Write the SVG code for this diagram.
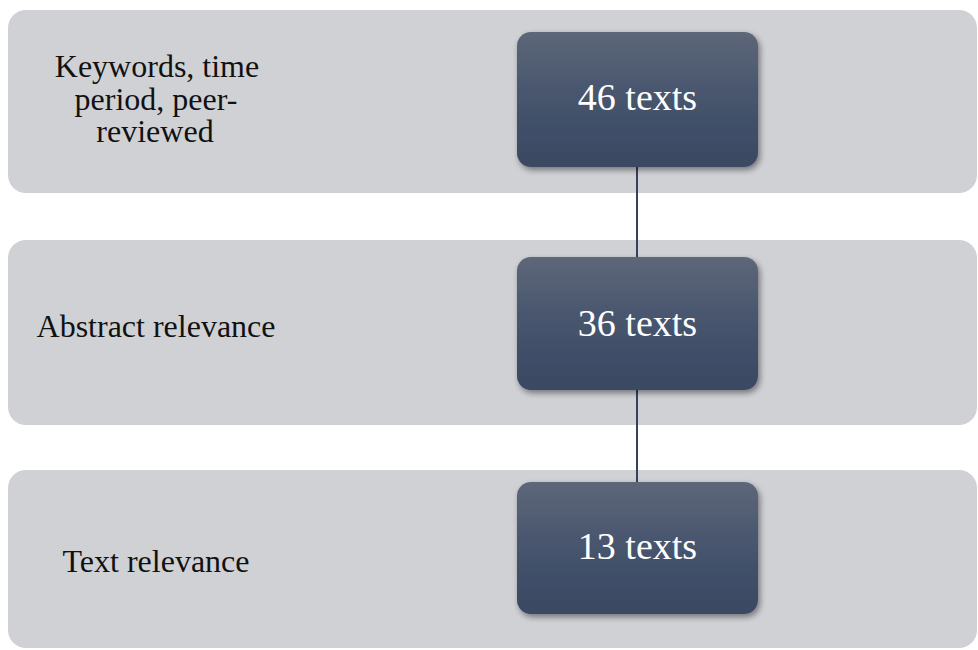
<svg xmlns="http://www.w3.org/2000/svg" width="978" height="650" viewBox="0 0 978 650">
<defs>
<linearGradient id="g" x1="0" y1="0" x2="0" y2="1">
<stop offset="0" stop-color="#5d6779"/>
<stop offset="0.5" stop-color="#46546d"/>
<stop offset="1" stop-color="#3a4862"/>
</linearGradient>
<filter id="sh" x="-10%" y="-10%" width="125%" height="130%">
<feGaussianBlur in="SourceAlpha" stdDeviation="3"/>
<feOffset dx="2" dy="3" result="b"/>
<feComponentTransfer><feFuncA type="linear" slope="0.45"/></feComponentTransfer>
<feMerge><feMergeNode/><feMergeNode in="SourceGraphic"/></feMerge>
</filter>
</defs>
<style>
.band{fill:#d0d1d5}
.box{fill:url(#g)}
.lbl{font-family:"Liberation Serif",serif;font-size:32px;fill:#111;text-anchor:middle}
.num{font-family:"Liberation Serif",serif;font-size:38px;fill:#fff;text-anchor:middle}
.con{stroke:#34425a;stroke-width:2;fill:none}
</style>
<rect width="978" height="650" fill="#fff"/>
<g id="band1"><rect class="band" x="8" y="10" width="969" height="183" rx="18"/>
<text class="lbl" x="157" y="77">Keywords, time</text>
<text class="lbl" x="156" y="110">period, peer-</text>
<text class="lbl" x="155" y="142">reviewed</text></g>
<g id="band2"><rect class="band" x="8" y="240" width="969" height="185" rx="18"/>
<text class="lbl" x="156" y="337">Abstract relevance</text></g>
<g id="band3"><rect class="band" x="8" y="470" width="969" height="178" rx="18"/>
<text class="lbl" x="156" y="572">Text relevance</text></g>
<g id="connectors">
<line class="con" x1="637" y1="167" x2="637" y2="257"/>
<line class="con" x1="637" y1="390" x2="637" y2="482"/>
</g>
<g id="node1"><rect class="box" x="517" y="32" width="241" height="135" rx="14" filter="url(#sh)"/>
<text class="num" x="637.5" y="110">46 texts</text></g>
<g id="node2"><rect class="box" x="517" y="257" width="241" height="133" rx="14" filter="url(#sh)"/>
<text class="num" x="637.5" y="336">36 texts</text></g>
<g id="node3"><rect class="box" x="517" y="482" width="241" height="132" rx="14" filter="url(#sh)"/>
<text class="num" x="637.5" y="559">13 texts</text></g>
</svg>
